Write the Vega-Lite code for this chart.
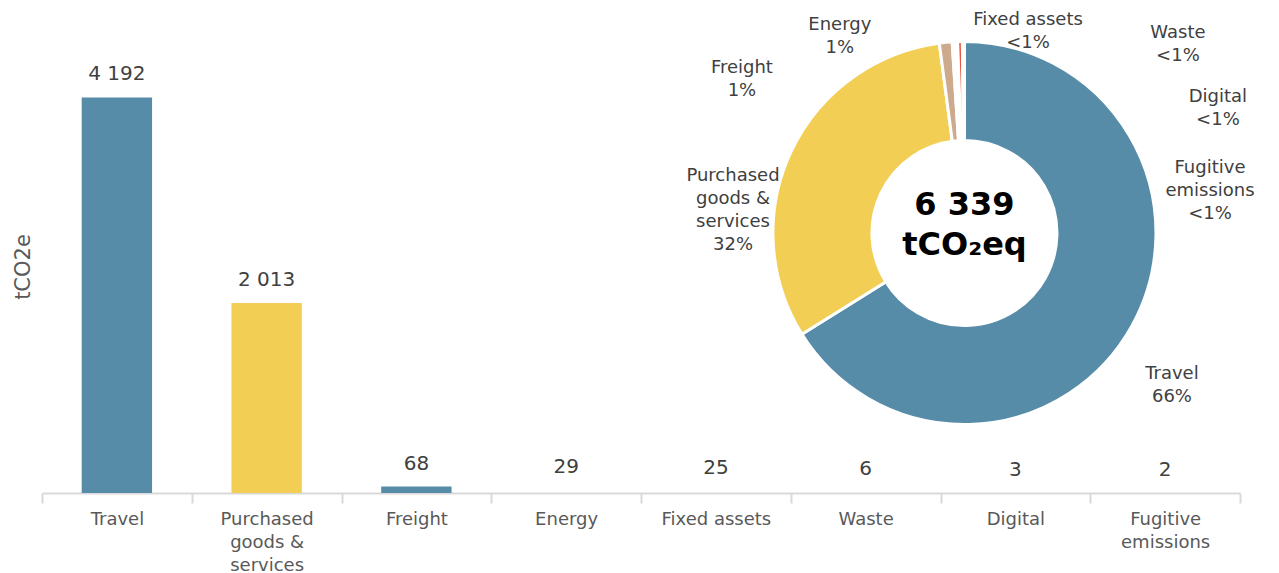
{
  "$schema": "https://vega.github.io/schema/vega-lite/v6.json",
  "width": 1198,
  "height": 453,
  "autosize": {"type": "none"},
  "padding": {"left": 42, "top": 40, "right": 39, "bottom": 80},
  "background": "white",
  "config": {
    "view": {"stroke": null},
    "font": "DejaVu Sans",
    "locale": {"number": {"decimal": ".", "thousands": " ", "grouping": [3], "currency": ["", ""]}}
  },
  "data": {
    "values": [
      {"category": "Travel", "tCO2e": 4192, "pieLabel": "Travel\n66%"},
      {"category": "Purchased goods & services", "tCO2e": 2013, "pieLabel": "Purchased\ngoods &\nservices\n32%"},
      {"category": "Freight", "tCO2e": 68, "pieLabel": "Freight\n1%"},
      {"category": "Energy", "tCO2e": 29, "pieLabel": "Energy\n1%"},
      {"category": "Fixed assets", "tCO2e": 25, "pieLabel": "Fixed assets\n<1%"},
      {"category": "Waste", "tCO2e": 6, "pieLabel": "Waste\n<1%"},
      {"category": "Digital", "tCO2e": 3, "pieLabel": "Digital\n<1%"},
      {"category": "Fugitive emissions", "tCO2e": 2, "pieLabel": "Fugitive\nemissions\n<1%"}
    ]
  },
  "layer": [
    {
      "encoding": {
        "x": {
          "field": "category",
          "type": "nominal",
          "sort": null,
          "scale": {"paddingInner": 0, "paddingOuter": 0},
          "axis": {
            "title": null,
            "labelAngle": 0,
            "labelExpr": "datum.value == 'Purchased goods & services' ? ['Purchased', 'goods &', 'services'] : datum.value == 'Fugitive emissions' ? ['Fugitive', 'emissions'] : datum.label",
            "labelFontSize": 18,
            "labelColor": "#595959",
            "labelLineHeight": 23,
            "labelPadding": 7,
            "domainColor": "#D9D9D9",
            "domainWidth": 2,
            "tickColor": "#D9D9D9",
            "tickWidth": 2,
            "tickSize": 10,
            "tickBand": "extent"
          }
        },
        "y": {
          "field": "tCO2e",
          "type": "quantitative",
          "scale": {"domain": [0, 4800], "nice": false},
          "axis": {
            "title": "tCO2e",
            "labels": false,
            "ticks": false,
            "domain": false,
            "grid": false,
            "titleFontSize": 21,
            "titleColor": "#595959",
            "titleFontWeight": "normal",
            "titlePadding": 9
          }
        }
      },
      "layer": [
        {
          "mark": {"type": "bar", "width": {"band": 0.47}},
          "encoding": {
            "color": {
              "field": "category",
              "type": "nominal",
              "scale": {
                "domain": ["Travel", "Purchased goods & services", "Freight", "Energy", "Fixed assets", "Waste", "Digital", "Fugitive emissions"],
                "range": ["#578CA9", "#F2CE55", "#578CA9", "transparent", "transparent", "transparent", "transparent", "transparent"]
              },
              "legend": null
            }
          }
        },
        {
          "mark": {"type": "text", "baseline": "alphabetic", "dy": -17, "fontSize": 20, "color": "#404040"},
          "encoding": {
            "text": {"field": "tCO2e", "type": "quantitative", "format": ",d"}
          }
        }
      ]
    },
    {
      "encoding": {
        "x": {"datum": 0.77, "type": "quantitative", "scale": {"domain": [0, 1]}, "axis": null},
        "y": {"datum": 0.574, "type": "quantitative", "scale": {"domain": [0, 1]}, "axis": null}
      },
      "layer": [
        {
          "mark": {"type": "arc", "outerRadius": 191.5, "innerRadius": 92.5, "stroke": "white", "strokeWidth": 3},
          "encoding": {
            "theta": {"field": "tCO2e", "type": "quantitative", "stack": true},
            "order": {"field": "tCO2e", "sort": "descending"},
            "color": {
              "field": "category",
              "type": "nominal",
              "scale": {
                "domain": ["Travel", "Purchased goods & services", "Freight", "Energy", "Fixed assets", "Waste", "Digital", "Fugitive emissions"],
                "range": ["#578CA9", "#F2CE55", "#CDAA8C", "#FFFFFF", "#E8563F", "#D89AB5", "#A5A5A5", "#7F7F7F"]
              },
              "legend": null
            }
          }
        },
        {
          "mark": {"type": "text", "lineBreak": "\n", "fontSize": 18, "lineHeight": 23, "color": "#404040", "align": "center", "baseline": "middle"},
          "encoding": {
            "text": {"field": "pieLabel", "type": "nominal"},
            "theta": {
              "field": "tCO2e",
              "type": "quantitative",
              "stack": null,
              "scale": {
                "type": "linear",
                "zero": false,
                "nice": false,
                "domain": [2, 3, 6, 25, 29, 68, 2013, 4192],
                "range": [1.312, 1.078, 0.818, 0.290, -0.540, -0.933, -1.329, 2.168]
              }
            },
            "radius": {
              "field": "tCO2e",
              "type": "quantitative",
              "scale": {
                "type": "linear",
                "zero": false,
                "nice": false,
                "domain": [2, 3, 6, 25, 29, 68, 2013, 4192],
                "range": [254, 287.7, 292.5, 222.3, 242.4, 277, 238.4, 250.9]
              }
            }
          }
        },
        {
          "data": {"values": [{"total": "6 339"}]},
          "mark": {"type": "text", "fontSize": 32, "fontWeight": "bold", "color": "#000000", "lineHeight": 40, "align": "center", "baseline": "middle", "dy": -28},
          "encoding": {
            "text": {"value": ["6 339", "tCO₂eq"]}
          }
        }
      ],
      "resolve": {"scale": {"theta": "independent"}}
    }
  ],
  "resolve": {"scale": {"x": "independent", "y": "independent", "color": "independent"}}
}
